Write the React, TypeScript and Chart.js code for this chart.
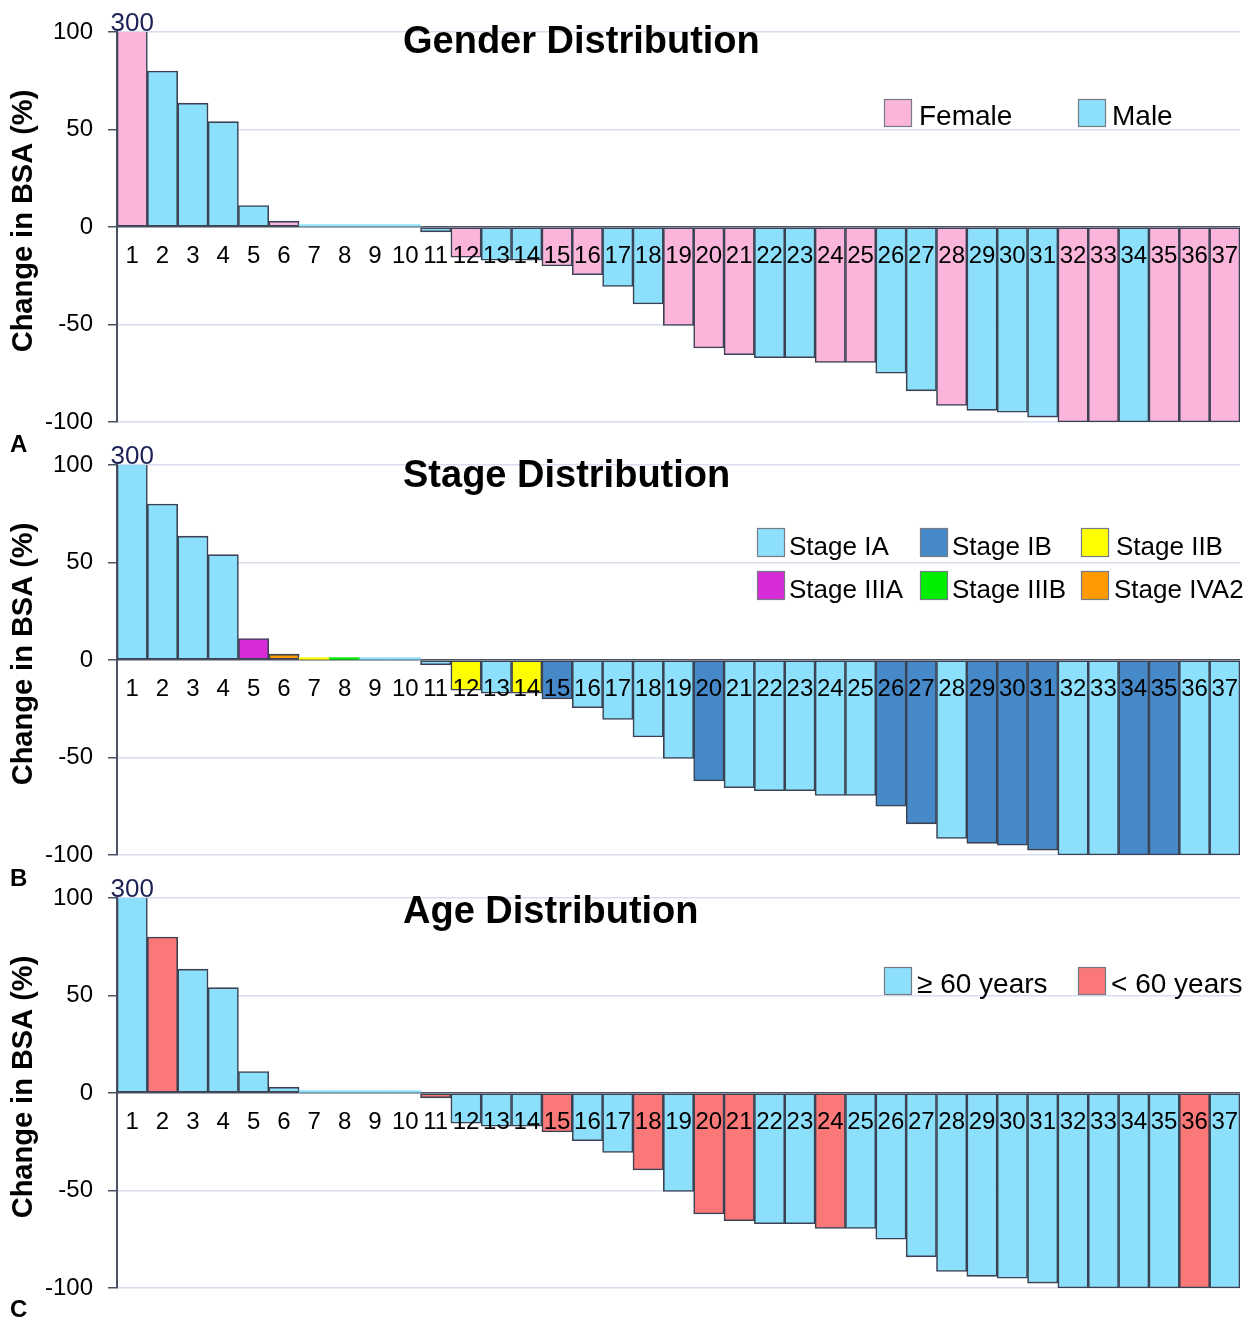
import React, { useEffect, useRef } from 'react';
import { Chart, registerables } from 'chart.js';

Chart.register(...registerables);

// ---------- data ----------
const categories = [
  '1', '2', '3', '4', '5', '6', '7', '8', '9', '10',
  '11', '12', '13', '14', '15', '16', '17', '18', '19', '20',
  '21', '22', '23', '24', '25', '26', '27', '28', '29', '30',
  '31', '32', '33', '34', '35', '36', '37',
];

// change in BSA (%) per patient; patient 1 is 300 (off the scale)
const bsaChange = [
  300, 80, 63.5, 54, 11, 3, 1.2, 1.2, 1.2, 1.2,
  -2.5, -15.5, -17, -17, -20, -24.5, -30.5, -39.5, -50.5, -62,
  -65.5, -67, -67, -69.5, -69.5, -75, -84, -91.5, -94, -95,
  -97.5, -100, -100, -100, -100, -100, -100,
];

const genderGroup = [
  'Female', 'Male', 'Male', 'Male', 'Male', 'Female', 'Male', 'Male', 'Male', 'Male',
  'Male', 'Female', 'Male', 'Male', 'Female', 'Female', 'Male', 'Male', 'Female', 'Female',
  'Female', 'Male', 'Male', 'Female', 'Female', 'Male', 'Male', 'Female', 'Male', 'Male',
  'Male', 'Female', 'Female', 'Male', 'Female', 'Female', 'Female',
];

const stageGroup = [
  'Stage IA', 'Stage IA', 'Stage IA', 'Stage IA', 'Stage IIIA', 'Stage IVA2', 'Stage IIB', 'Stage IIIB', 'Stage IA', 'Stage IA',
  'Stage IA', 'Stage IIB', 'Stage IA', 'Stage IIB', 'Stage IB', 'Stage IA', 'Stage IA', 'Stage IA', 'Stage IA', 'Stage IB',
  'Stage IA', 'Stage IA', 'Stage IA', 'Stage IA', 'Stage IA', 'Stage IB', 'Stage IB', 'Stage IA', 'Stage IB', 'Stage IB',
  'Stage IB', 'Stage IA', 'Stage IA', 'Stage IB', 'Stage IB', 'Stage IA', 'Stage IA',
];

const ageGroup = [
  '≥ 60 years', '< 60 years', '≥ 60 years', '≥ 60 years', '≥ 60 years', '≥ 60 years', '≥ 60 years', '≥ 60 years', '≥ 60 years', '≥ 60 years',
  '< 60 years', '≥ 60 years', '≥ 60 years', '≥ 60 years', '< 60 years', '≥ 60 years', '≥ 60 years', '< 60 years', '≥ 60 years', '< 60 years',
  '< 60 years', '≥ 60 years', '≥ 60 years', '< 60 years', '≥ 60 years', '≥ 60 years', '≥ 60 years', '≥ 60 years', '≥ 60 years', '≥ 60 years',
  '≥ 60 years', '≥ 60 years', '≥ 60 years', '≥ 60 years', '≥ 60 years', '< 60 years', '≥ 60 years',
];

const yTickValues = [100, 50, 0, -50, -100];
const genderLegend = ['Female', 'Male'];
const stageLegend = ['Stage IA', 'Stage IB', 'Stage IIB', 'Stage IIIA', 'Stage IIIB', 'Stage IVA2'];
const ageLegend = ['≥ 60 years', '< 60 years'];
const panelTitles = ['Gender Distribution', 'Stage Distribution', 'Age Distribution'];
const panelLetters = ['A', 'B', 'C'];
const yAxisTitle = 'Change in BSA (%)';
const overflowLabel = '300';

// ---------- styles ----------
const FONT = "'Liberation Sans', Arial, Helvetica, sans-serif";
const groupColors: Record<string, string> = {
  Female: '#fbb4da',
  Male: '#8de0fb',
  'Stage IA': '#8de0fb',
  'Stage IB': '#4589c8',
  'Stage IIB': '#ffff00',
  'Stage IIIA': '#d82bd8',
  'Stage IIIB': '#00ee00',
  'Stage IVA2': '#ff9a00',
  '≥ 60 years': '#8de0fb',
  '< 60 years': '#fa7878',
};
const AXIS_DARK = '#4b5263';
const GRID_LIGHT = '#d8deed';
const BAR_BORDER = '#3a4254';

const PANEL_STEP = 433;
const CANVAS_H = 449;
const PANEL_W = 1258;

type LegendItem = { label: string; bx: number; by: number; bw: number; bh: number; tx: number; ty: number };
type PanelCfg = {
  title: string;
  titleBaseline: number;
  groups: string[];
  legendFont: number;
  legend: LegendItem[];
};

const panels: PanelCfg[] = [
  {
    title: panelTitles[0],
    titleBaseline: 53,
    groups: genderGroup,
    legendFont: 28,
    legend: [
      { label: genderLegend[0], bx: 884, by: 99, bw: 28, bh: 28, tx: 919, ty: 125 },
      { label: genderLegend[1], bx: 1078, by: 99, bw: 28, bh: 28, tx: 1112, ty: 125 },
    ],
  },
  {
    title: panelTitles[1],
    titleBaseline: 54,
    groups: stageGroup,
    legendFont: 26,
    legend: [
      { label: stageLegend[0], bx: 757, by: 95, bw: 28, bh: 29, tx: 789, ty: 122 },
      { label: stageLegend[1], bx: 920, by: 95, bw: 28, bh: 29, tx: 952, ty: 122 },
      { label: stageLegend[2], bx: 1081, by: 95, bw: 28, bh: 29, tx: 1116, ty: 122 },
      { label: stageLegend[3], bx: 757, by: 138, bw: 28, bh: 29, tx: 789, ty: 165 },
      { label: stageLegend[4], bx: 920, by: 138, bw: 28, bh: 29, tx: 952, ty: 165 },
      { label: stageLegend[5], bx: 1081, by: 138, bw: 28, bh: 29, tx: 1114, ty: 165 },
    ],
  },
  {
    title: panelTitles[2],
    titleBaseline: 57,
    groups: ageGroup,
    legendFont: 28,
    legend: [
      { label: ageLegend[0], bx: 884, by: 101, bw: 28, bh: 28, tx: 917, ty: 127 },
      { label: ageLegend[1], bx: 1078, by: 101, bw: 28, bh: 28, tx: 1111, ty: 127 },
    ],
  },
];

function makeOverlay(cfg: PanelCfg) {
  return {
    id: 'overlayText',
    afterDraw(chart: any) {
      const ctx = chart.ctx as CanvasRenderingContext2D;
      const xs = chart.scales.x;
      const ys = chart.scales.y;
      ctx.save();
      // title
      ctx.fillStyle = '#000';
      ctx.font = `bold 38px ${FONT}`;
      ctx.textAlign = 'left';
      ctx.textBaseline = 'alphabetic';
      ctx.fillText(cfg.title, 403, cfg.titleBaseline);

      // overflow value label above bar 1
      ctx.font = `26px ${FONT}`;
      ctx.fillStyle = '#1c2256';
      ctx.textAlign = 'center';
      ctx.fillText(overflowLabel, xs.getPixelForValue(0), ys.getPixelForValue(100) - 1);

      // legend
      ctx.textAlign = 'left';
      ctx.font = `${cfg.legendFont}px ${FONT}`;
      cfg.legend.forEach((it) => {
        ctx.fillStyle = groupColors[it.label];
        ctx.fillRect(it.bx, it.by, it.bw, it.bh);
        ctx.strokeStyle = '#767b88';
        ctx.lineWidth = 1.2;
        ctx.strokeRect(it.bx + 0.5, it.by + 0.5, it.bw - 1, it.bh - 1);
        ctx.fillStyle = '#000';
        ctx.fillText(it.label, it.tx, it.ty);
      });

      // y axis title
      ctx.translate(31.5, 221);
      ctx.rotate(-Math.PI / 2);
      ctx.font = `bold 29px ${FONT}`;
      ctx.fillStyle = '#000';
      ctx.textAlign = 'center';
      ctx.textBaseline = 'alphabetic';
      ctx.fillText(yAxisTitle, 0, 0);
      ctx.restore();
    },
  };
}

function Panel({ cfg }: { cfg: PanelCfg }) {
  const ref = useRef<HTMLCanvasElement | null>(null);
  useEffect(() => {
    if (!ref.current) return;
    const chart = new Chart(ref.current, {
      type: 'bar',
      data: {
        labels: categories,
        datasets: [
          {
            data: bsaChange,
            backgroundColor: cfg.groups.map((g) => groupColors[g]),
            borderColor: BAR_BORDER,
            borderWidth: (c: any) => (Math.abs(bsaChange[c.dataIndex]) < 2 ? 0 : 1.6),
            borderSkipped: false,
            categoryPercentage: 1,
            barPercentage: 1,
            clip: 0,
          } as any,
        ],
      },
      options: {
        animation: false,
        responsive: false,
        maintainAspectRatio: false,
        layout: { padding: { top: 32, bottom: CANVAS_H - 422, left: 0, right: 18 } },
        plugins: { legend: { display: false }, tooltip: { enabled: false } },
        scales: {
          x: {
            type: 'category',
            position: { y: 0 } as any,
            offset: true,
            afterFit: (s: any) => {
              s.height = 0;
            },
            grid: { display: false, drawTicks: false },
            border: { display: false },
            ticks: {
              z: 1,
              autoSkip: false,
              maxRotation: 0,
              minRotation: 0,
              padding: 15,
              color: '#000',
              font: { family: FONT, size: 24, lineHeight: 1.2 },
            },
          },
          y: {
            min: -100,
            max: 100,
            afterBuildTicks: (s: any) => {
              s.ticks = yTickValues.map((v) => ({ value: v }));
            },
            afterFit: (s: any) => {
              s.width = 117;
            },
            grid: {
              color: (c: any) => (c.tick && c.tick.value === 0 ? AXIS_DARK : GRID_LIGHT),
              lineWidth: 1.5,
              tickLength: 9,
              tickColor: AXIS_DARK,
              drawTicks: true,
            },
            border: { color: AXIS_DARK, width: 2 },
            ticks: {
              padding: 15,
              color: '#000',
              font: { family: FONT, size: 24, lineHeight: 1 },
            },
          },
        },
      } as any,
      plugins: [makeOverlay(cfg)],
    });
    return () => chart.destroy();
  }, [cfg]);
  return <canvas ref={ref} width={PANEL_W} height={CANVAS_H} style={{ display: 'block', width: PANEL_W, height: CANVAS_H }} />;
}

const letterTops = [432, 866, 1297];

export default function App() {
  return (
    <div style={{ position: 'absolute', left: 0, top: 0, width: PANEL_W, height: 1321, background: '#fff' }}>
      {panels.map((p, i) => (
        <div key={i} style={{ position: 'absolute', left: 0, top: i * PANEL_STEP, width: PANEL_W, height: CANVAS_H }}>
          <Panel cfg={p} />
        </div>
      ))}
      {panelLetters.map((l, i) => (
        <div
          key={l}
          style={{
            position: 'absolute',
            left: 10,
            top: letterTops[i],
            font: `bold 24px ${FONT}`,
            lineHeight: '24px',
            color: '#000',
          }}
        >
          {l}
        </div>
      ))}
    </div>
  );
}
